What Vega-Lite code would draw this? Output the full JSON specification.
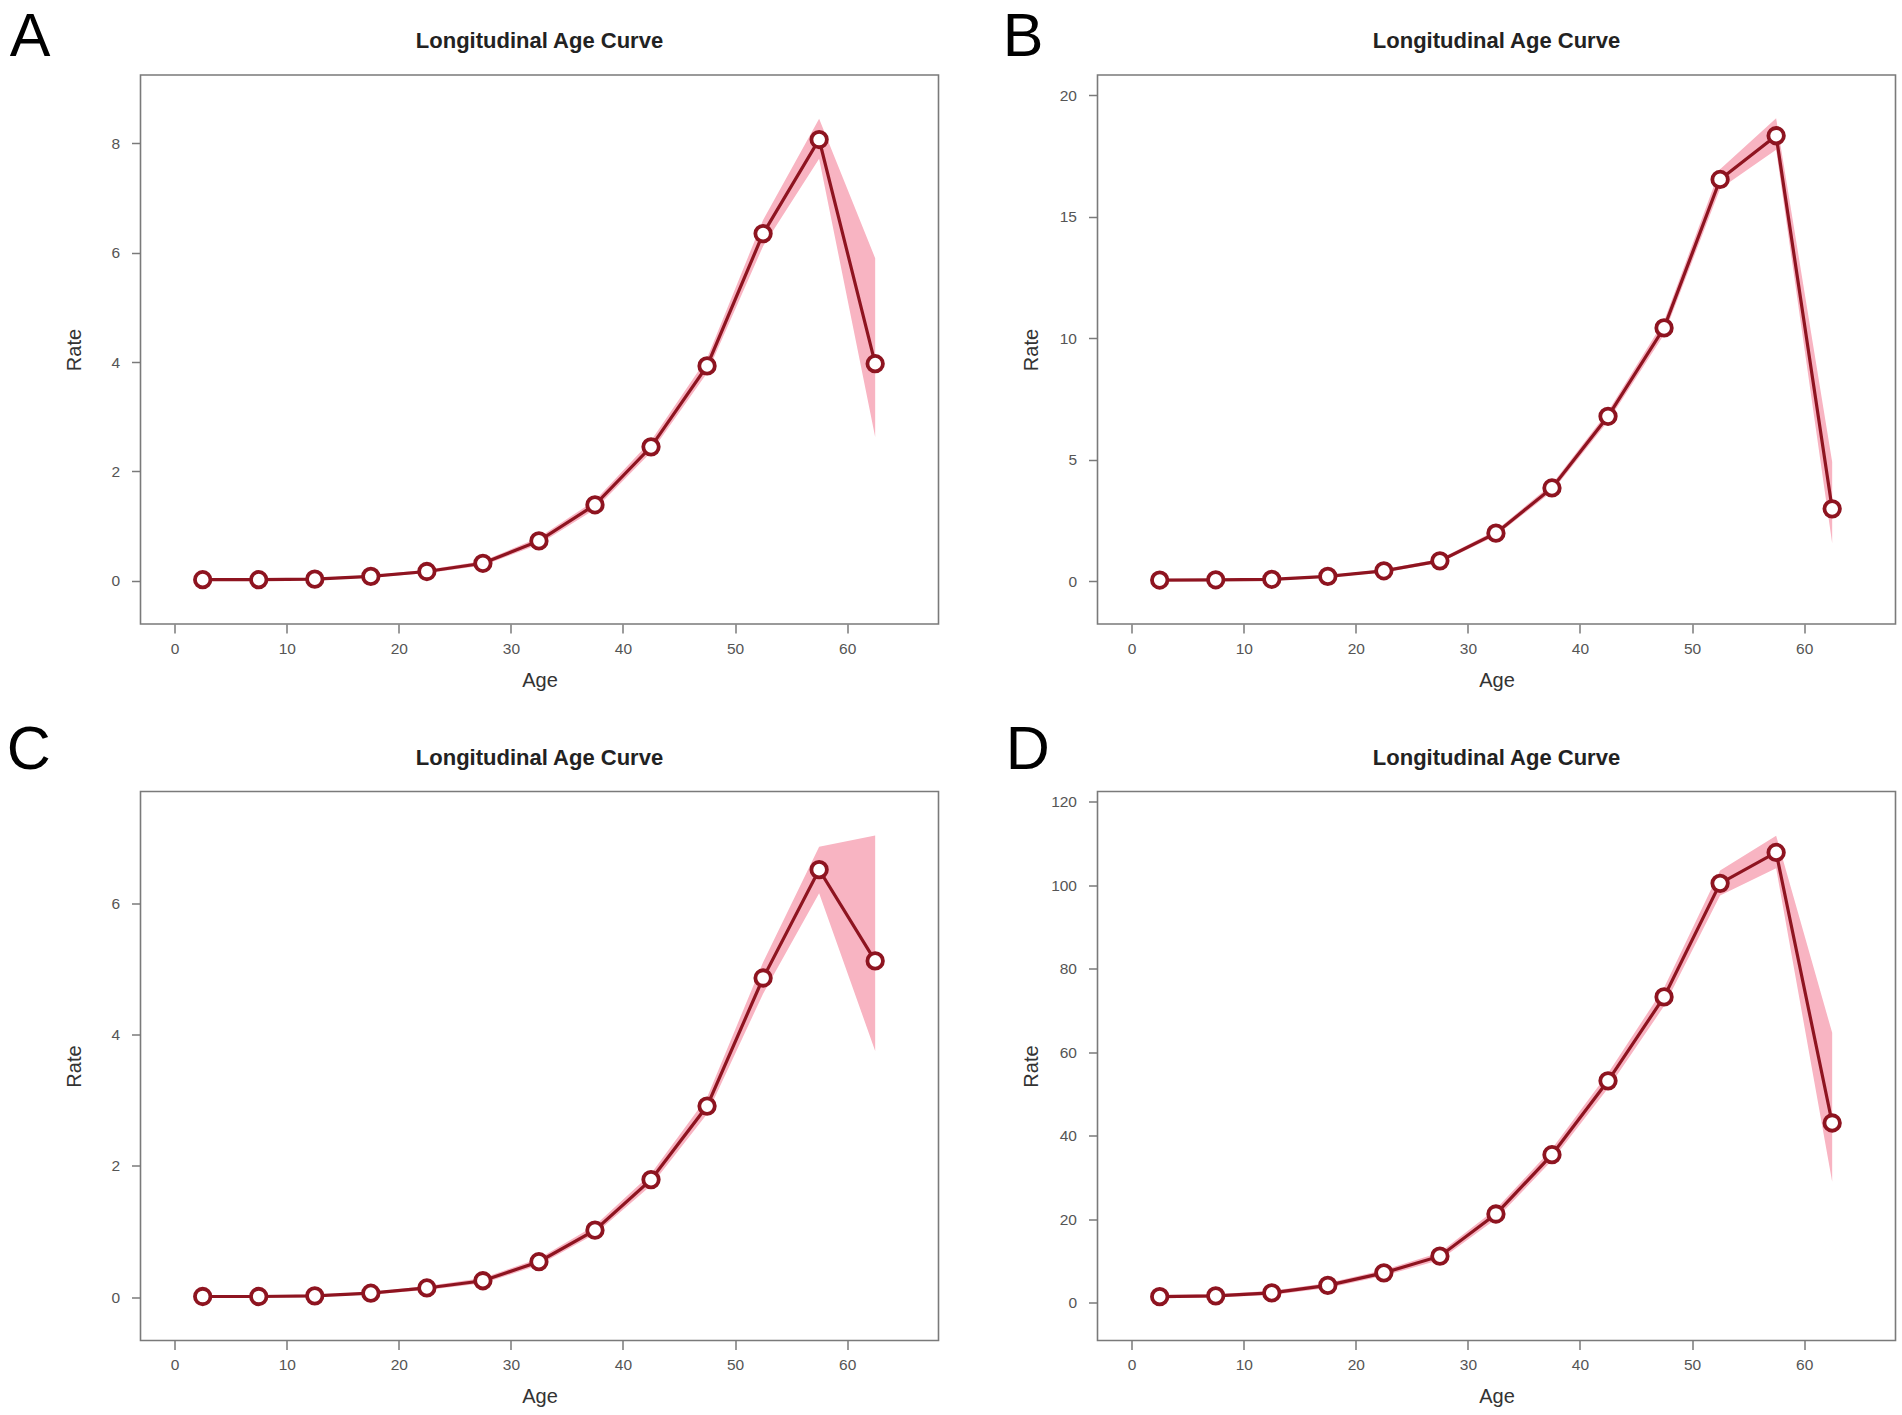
{
  "$schema": "https://vega.github.io/schema/vega-lite/v6.json",
  "background": "white",
  "padding": {"left": 6.5, "top": 7, "right": 0, "bottom": 0},
  "datasets": {
    "curves": [
      {"panel": "A", "age": 2.5, "rate": 0.02, "lower": 0.01, "upper": 0.03},
      {"panel": "A", "age": 7.5, "rate": 0.02, "lower": 0.01, "upper": 0.03},
      {"panel": "A", "age": 12.5, "rate": 0.03, "lower": 0.02, "upper": 0.05},
      {"panel": "A", "age": 17.5, "rate": 0.08, "lower": 0.06, "upper": 0.10},
      {"panel": "A", "age": 22.5, "rate": 0.17, "lower": 0.14, "upper": 0.20},
      {"panel": "A", "age": 27.5, "rate": 0.32, "lower": 0.28, "upper": 0.36},
      {"panel": "A", "age": 32.5, "rate": 0.73, "lower": 0.67, "upper": 0.79},
      {"panel": "A", "age": 37.5, "rate": 1.39, "lower": 1.31, "upper": 1.47},
      {"panel": "A", "age": 42.5, "rate": 2.45, "lower": 2.35, "upper": 2.56},
      {"panel": "A", "age": 47.5, "rate": 3.93, "lower": 3.80, "upper": 4.07},
      {"panel": "A", "age": 52.5, "rate": 6.35, "lower": 6.12, "upper": 6.60},
      {"panel": "A", "age": 57.5, "rate": 8.07, "lower": 7.72, "upper": 8.45},
      {"panel": "A", "age": 62.5, "rate": 3.97, "lower": 2.63, "upper": 5.90},
      {"panel": "B", "age": 2.5, "rate": 0.04, "lower": 0.02, "upper": 0.06},
      {"panel": "B", "age": 7.5, "rate": 0.05, "lower": 0.03, "upper": 0.07},
      {"panel": "B", "age": 12.5, "rate": 0.07, "lower": 0.05, "upper": 0.10},
      {"panel": "B", "age": 17.5, "rate": 0.19, "lower": 0.15, "upper": 0.23},
      {"panel": "B", "age": 22.5, "rate": 0.42, "lower": 0.36, "upper": 0.48},
      {"panel": "B", "age": 27.5, "rate": 0.83, "lower": 0.75, "upper": 0.91},
      {"panel": "B", "age": 32.5, "rate": 1.97, "lower": 1.86, "upper": 2.08},
      {"panel": "B", "age": 37.5, "rate": 3.83, "lower": 3.68, "upper": 3.98},
      {"panel": "B", "age": 42.5, "rate": 6.78, "lower": 6.58, "upper": 6.98},
      {"panel": "B", "age": 47.5, "rate": 10.42, "lower": 10.15, "upper": 10.70},
      {"panel": "B", "age": 52.5, "rate": 16.53, "lower": 16.15, "upper": 16.95},
      {"panel": "B", "age": 57.5, "rate": 18.33, "lower": 17.75, "upper": 19.05},
      {"panel": "B", "age": 62.5, "rate": 2.97, "lower": 1.55, "upper": 4.90},
      {"panel": "C", "age": 2.5, "rate": 0.01, "lower": 0.00, "upper": 0.02},
      {"panel": "C", "age": 7.5, "rate": 0.01, "lower": 0.00, "upper": 0.02},
      {"panel": "C", "age": 12.5, "rate": 0.02, "lower": 0.01, "upper": 0.04},
      {"panel": "C", "age": 17.5, "rate": 0.06, "lower": 0.04, "upper": 0.08},
      {"panel": "C", "age": 22.5, "rate": 0.14, "lower": 0.11, "upper": 0.17},
      {"panel": "C", "age": 27.5, "rate": 0.25, "lower": 0.21, "upper": 0.29},
      {"panel": "C", "age": 32.5, "rate": 0.54, "lower": 0.49, "upper": 0.59},
      {"panel": "C", "age": 37.5, "rate": 1.02, "lower": 0.96, "upper": 1.09},
      {"panel": "C", "age": 42.5, "rate": 1.79, "lower": 1.70, "upper": 1.88},
      {"panel": "C", "age": 47.5, "rate": 2.91, "lower": 2.79, "upper": 3.04},
      {"panel": "C", "age": 52.5, "rate": 4.86, "lower": 4.62, "upper": 5.10},
      {"panel": "C", "age": 57.5, "rate": 6.51, "lower": 6.15, "upper": 6.86},
      {"panel": "C", "age": 62.5, "rate": 5.12, "lower": 3.75, "upper": 7.03},
      {"panel": "D", "age": 2.5, "rate": 1.4, "lower": 1.0, "upper": 1.8},
      {"panel": "D", "age": 7.5, "rate": 1.6, "lower": 1.2, "upper": 2.0},
      {"panel": "D", "age": 12.5, "rate": 2.3, "lower": 1.8, "upper": 2.8},
      {"panel": "D", "age": 17.5, "rate": 4.1, "lower": 3.5, "upper": 4.7},
      {"panel": "D", "age": 22.5, "rate": 7.1, "lower": 6.4, "upper": 7.8},
      {"panel": "D", "age": 27.5, "rate": 11.1, "lower": 10.2, "upper": 12.0},
      {"panel": "D", "age": 32.5, "rate": 21.2, "lower": 20.0, "upper": 22.4},
      {"panel": "D", "age": 37.5, "rate": 35.4, "lower": 34.0, "upper": 36.8},
      {"panel": "D", "age": 42.5, "rate": 53.1, "lower": 51.3, "upper": 54.9},
      {"panel": "D", "age": 47.5, "rate": 73.2, "lower": 71.0, "upper": 75.4},
      {"panel": "D", "age": 52.5, "rate": 100.4, "lower": 97.5, "upper": 103.5},
      {"panel": "D", "age": 57.5, "rate": 107.8, "lower": 104.0, "upper": 111.8},
      {"panel": "D", "age": 62.5, "rate": 43.0, "lower": 28.9, "upper": 64.6}
    ]
  },
  "columns": 2,
  "spacing": {"row": 28.5, "column": 63},
  "concat": [
    {
      "title": {"text": "A", "anchor": "start", "dx": -54, "offset": -40, "fontSize": 61, "fontWeight": "normal", "color": "#000000"},
      "vconcat": [
        {
          "width": 798,
          "height": 549,
          "title": {"text": "Longitudinal Age Curve", "frame": "group", "anchor": "middle", "offset": 22},
          "data": {"name": "curves"},
          "transform": [{"filter": "datum.panel === 'A'"}],
          "encoding": {
            "x": {
              "field": "age", "type": "quantitative", "title": "Age",
              "scale": {"domain": [-3.05, 68.15], "nice": false, "zero": false},
              "axis": {"values": [0, 10, 20, 30, 40, 50, 60], "titleY": 56, "titleBaseline": "middle"}
            }
          },
          "layer": [
            {
              "mark": {"type": "area", "color": "#f8b4c2", "opacity": 1},
              "encoding": {
                "y": {
                  "field": "lower", "type": "quantitative", "title": "Rate",
                  "scale": {"domain": [-0.79, 9.25], "nice": false, "zero": false},
                  "axis": {"values": [0, 2, 4, 6, 8], "format": "d", "titleX": -66, "titleY": 274.5, "titleBaseline": "middle"}
                },
                "y2": {"field": "upper"}
              }
            },
            {
              "mark": {"type": "line", "color": "#8e1420", "strokeWidth": 3.2},
              "encoding": {"y": {"field": "rate", "type": "quantitative", "title": "Rate"}}
            },
            {
              "mark": {"type": "point", "shape": "circle", "filled": true, "fill": "white", "stroke": "#8e1420", "strokeWidth": 3.8, "size": 240, "opacity": 1},
              "encoding": {"y": {"field": "rate", "type": "quantitative", "title": "Rate"}}
            }
          ]
        }
      ]
    },
    {
      "title": {"text": "B", "anchor": "start", "dx": -18, "offset": -40, "fontSize": 61, "fontWeight": "normal", "color": "#000000"},
      "vconcat": [
        {
          "width": 798,
          "height": 549,
          "title": {"text": "Longitudinal Age Curve", "frame": "group", "anchor": "middle", "offset": 22},
          "data": {"name": "curves"},
          "transform": [{"filter": "datum.panel === 'B'"}],
          "encoding": {
            "x": {
              "field": "age", "type": "quantitative", "title": "Age",
              "scale": {"domain": [-3.05, 68.15], "nice": false, "zero": false},
              "axis": {"values": [0, 10, 20, 30, 40, 50, 60], "titleY": 56, "titleBaseline": "middle"}
            }
          },
          "layer": [
            {
              "mark": {"type": "area", "color": "#f8b4c2", "opacity": 1},
              "encoding": {
                "y": {
                  "field": "lower", "type": "quantitative", "title": "Rate",
                  "scale": {"domain": [-1.77, 20.83], "nice": false, "zero": false},
                  "axis": {"values": [0, 5, 10, 15, 20], "format": "d", "titleX": -66, "titleY": 274.5, "titleBaseline": "middle"}
                },
                "y2": {"field": "upper"}
              }
            },
            {
              "mark": {"type": "line", "color": "#8e1420", "strokeWidth": 3.2},
              "encoding": {"y": {"field": "rate", "type": "quantitative", "title": "Rate"}}
            },
            {
              "mark": {"type": "point", "shape": "circle", "filled": true, "fill": "white", "stroke": "#8e1420", "strokeWidth": 3.8, "size": 240, "opacity": 1},
              "encoding": {"y": {"field": "rate", "type": "quantitative", "title": "Rate"}}
            }
          ]
        }
      ]
    },
    {
      "title": {"text": "C", "anchor": "start", "dx": -57, "offset": -36, "fontSize": 61, "fontWeight": "normal", "color": "#000000"},
      "vconcat": [
        {
          "width": 798,
          "height": 549,
          "title": {"text": "Longitudinal Age Curve", "frame": "group", "anchor": "middle", "offset": 22},
          "data": {"name": "curves"},
          "transform": [{"filter": "datum.panel === 'C'"}],
          "encoding": {
            "x": {
              "field": "age", "type": "quantitative", "title": "Age",
              "scale": {"domain": [-3.05, 68.15], "nice": false, "zero": false},
              "axis": {"values": [0, 10, 20, 30, 40, 50, 60], "titleY": 56, "titleBaseline": "middle"}
            }
          },
          "layer": [
            {
              "mark": {"type": "area", "color": "#f8b4c2", "opacity": 1},
              "encoding": {
                "y": {
                  "field": "lower", "type": "quantitative", "title": "Rate",
                  "scale": {"domain": [-0.66, 7.7], "nice": false, "zero": false},
                  "axis": {"values": [0, 2, 4, 6], "format": "d", "titleX": -66, "titleY": 274.5, "titleBaseline": "middle"}
                },
                "y2": {"field": "upper"}
              }
            },
            {
              "mark": {"type": "line", "color": "#8e1420", "strokeWidth": 3.2},
              "encoding": {"y": {"field": "rate", "type": "quantitative", "title": "Rate"}}
            },
            {
              "mark": {"type": "point", "shape": "circle", "filled": true, "fill": "white", "stroke": "#8e1420", "strokeWidth": 3.8, "size": 240, "opacity": 1},
              "encoding": {"y": {"field": "rate", "type": "quantitative", "title": "Rate"}}
            }
          ]
        }
      ]
    },
    {
      "title": {"text": "D", "anchor": "start", "dx": -15, "offset": -36, "fontSize": 61, "fontWeight": "normal", "color": "#000000"},
      "vconcat": [
        {
          "width": 798,
          "height": 549,
          "title": {"text": "Longitudinal Age Curve", "frame": "group", "anchor": "middle", "offset": 22},
          "data": {"name": "curves"},
          "transform": [{"filter": "datum.panel === 'D'"}],
          "encoding": {
            "x": {
              "field": "age", "type": "quantitative", "title": "Age",
              "scale": {"domain": [-3.05, 68.15], "nice": false, "zero": false},
              "axis": {"values": [0, 10, 20, 30, 40, 50, 60], "titleY": 56, "titleBaseline": "middle"}
            }
          },
          "layer": [
            {
              "mark": {"type": "area", "color": "#f8b4c2", "opacity": 1},
              "encoding": {
                "y": {
                  "field": "lower", "type": "quantitative", "title": "Rate",
                  "scale": {"domain": [-9.1, 122.4], "nice": false, "zero": false},
                  "axis": {"values": [0, 20, 40, 60, 80, 100, 120], "format": "d", "titleX": -66, "titleY": 274.5, "titleBaseline": "middle"}
                },
                "y2": {"field": "upper"}
              }
            },
            {
              "mark": {"type": "line", "color": "#8e1420", "strokeWidth": 3.2},
              "encoding": {"y": {"field": "rate", "type": "quantitative", "title": "Rate"}}
            },
            {
              "mark": {"type": "point", "shape": "circle", "filled": true, "fill": "white", "stroke": "#8e1420", "strokeWidth": 3.8, "size": 240, "opacity": 1},
              "encoding": {"y": {"field": "rate", "type": "quantitative", "title": "Rate"}}
            }
          ]
        }
      ]
    }
  ],
  "config": {
    "font": "Liberation Sans",
    "view": {"stroke": "#7a7a7a", "strokeWidth": 1.6},
    "title": {"fontSize": 22, "fontWeight": "bold", "color": "#222222", "font": "Liberation Sans"},
    "axis": {
      "domain": false,
      "grid": false,
      "ticks": true,
      "tickColor": "#7a7a7a",
      "tickSize": 9,
      "tickWidth": 1.5,
      "labelFont": "Liberation Sans",
      "labelFontSize": 15.5,
      "labelColor": "#555555",
      "titleFont": "Liberation Sans",
      "titleFontSize": 20,
      "titleFontWeight": "normal",
      "titleColor": "#333333"
    },
    "axisX": {"labelPadding": 8},
    "axisY": {"labelPadding": 12}
  }
}
